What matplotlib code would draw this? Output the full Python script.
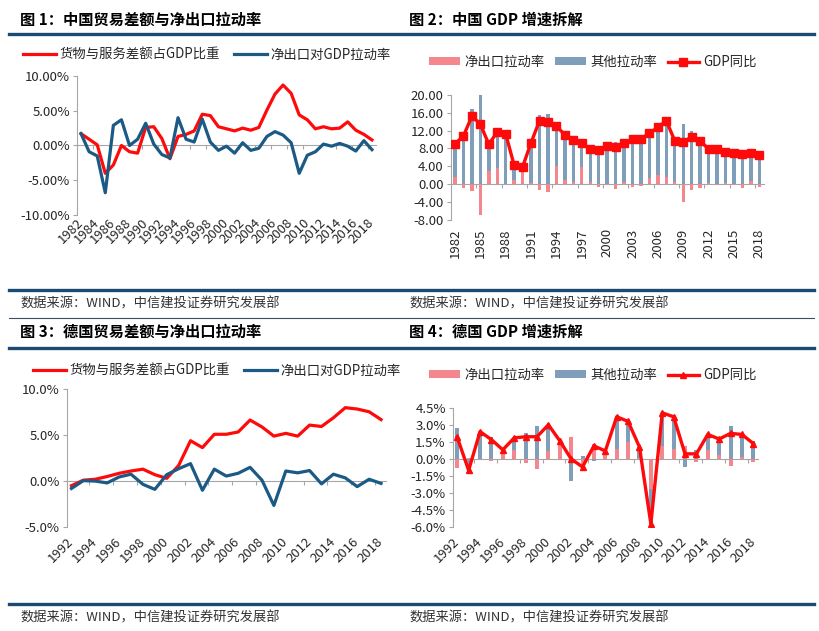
import numpy as np
import matplotlib
matplotlib.use('Agg')
import matplotlib.pyplot as plt
from matplotlib.lines import Line2D
from matplotlib.ticker import FuncFormatter

plt.rcParams['font.family'] = ['Noto Sans CJK SC', 'DejaVu Sans']
plt.rcParams['axes.unicode_minus'] = False

# ---- China, 1982-2018 ----
cn_years = list(range(1982, 2019))
# 货物与服务差额占GDP比重 (%)
cn_tb = [1.7, 0.9, 0.1, -4.0, -2.8, 0.0, -0.9, -1.1, 2.6, 2.7,
         1.0, -1.9, 1.3, 1.6, 2.1, 4.5, 4.3, 2.7, 2.4, 2.1,
         2.5, 2.2, 2.6, 5.1, 7.4, 8.7, 7.5, 4.4, 3.7, 2.4,
         2.7, 2.4, 2.5, 3.4, 2.2, 1.6, 0.8]
# 净出口对GDP拉动率 (%)
cn_nx = [1.7, -0.9, -1.5, -6.8, 2.9, 3.7, 0.0, 0.9, 3.2, 0.2,
         -1.3, -1.8, 4.0, 0.9, 0.5, 3.8, 0.5, -0.7, -0.1, -1.1,
         0.4, -0.7, -0.4, 1.3, 2.0, 1.5, 0.4, -4.0, -1.4, -0.9,
         0.2, -0.1, 0.3, -0.1, -0.8, 0.7, -0.6]
# 其他拉动率 (%)
cn_other = [7.3, 11.7, 16.7, 20.2, 6.0, 8.0, 11.2, 3.3, 0.7, 9.1,
            15.5, 15.7, 9.0, 10.1, 9.4, 5.4, 7.3, 8.4, 8.6, 9.4,
            8.7, 10.7, 10.5, 10.1, 10.7, 12.7, 9.3, 13.4, 12.0, 10.5,
            7.7, 7.9, 7.0, 7.0, 7.5, 6.2, 7.2]
# GDP同比 (%)
cn_gdp = [9.0, 10.8, 15.2, 13.4, 8.9, 11.7, 11.2, 4.2, 3.9, 9.3,
          14.2, 13.9, 13.0, 11.0, 9.9, 9.2, 7.8, 7.7, 8.5, 8.3,
          9.1, 10.0, 10.1, 11.4, 12.7, 14.2, 9.7, 9.4, 10.6, 9.6,
          7.9, 7.8, 7.3, 6.9, 6.7, 6.9, 6.6]

# ---- Germany, 1992-2018 ----
de_years = list(range(1992, 2019))
de_tb = [-0.5, 0.1, 0.2, 0.5, 0.85, 1.1, 1.3, 0.7, 0.3, 1.7,
         4.4, 3.65, 5.1, 5.1, 5.35, 6.65, 5.9, 4.9, 5.2, 4.9,
         6.1, 5.95, 6.9, 8.0, 7.85, 7.55, 6.7]
de_nx = [-0.8, 0.05, 0.0, -0.2, 0.45, 0.75, -0.35, -0.9, 0.7, 1.35,
         1.9, -1.0, 1.3, 0.55, 0.85, 1.5, 0.1, -2.65, 1.1, 0.9,
         1.15, -0.3, 0.75, 0.35, -0.6, 0.2, -0.25]
de_other = [2.7, -1.05, 2.4, 1.9, 0.35, 1.1, 2.3, 2.85, 2.3, 0.25,
            -1.9, 0.3, -0.15, 0.15, 2.85, 1.8, 0.95, -3.05, 2.95, 2.8,
            -0.7, 0.75, 1.4, 1.4, 2.85, 1.95, 1.6]
de_gdp = [1.9, -1.0, 2.4, 1.7, 0.8, 1.85, 1.95, 1.95, 3.0, 1.6,
          0.0, -0.7, 1.15, 0.7, 3.7, 3.3, 1.05, -5.7, 4.05, 3.7,
          0.45, 0.45, 2.15, 1.75, 2.25, 2.15, 1.35]

titles = ['图 1：中国贸易差额与净出口拉动率', '图 2：中国 GDP 增速拆解',
          '图 3：德国贸易差额与净出口拉动率', '图 4：德国 GDP 增速拆解']
source = '数据来源：WIND，中信建投证券研究发展部'
line_labels = ['货物与服务差额占GDP比重', '净出口对GDP拉动率']
bar_labels = ['净出口拉动率', '其他拉动率', 'GDP同比']

RED = '#FF0A0A'
BLUE = '#1B5A85'
PINK = '#F4868D'
STEEL = '#7F9EBA'
NAVY = '#1B4A72'
GRAY = '#A6A6A6'
TXT = '#262626'

W, H = 819, 631
fig = plt.figure(figsize=(W / 100, H / 100), dpi=100)


def px_axes(l, t, r, b):
    return fig.add_axes([l / W, 1 - b / H, (r - l) / W, (b - t) / H])


def style(ax, ylim, step, fmt, xlim, lab_step, rot, pad, mark_start):
    ax.set_xlim(*xlim)
    ax.set_ylim(*ylim)
    for s in ['top', 'right', 'bottom']:
        ax.spines[s].set_visible(False)
    ax.spines['left'].set_color(GRAY)
    ax.spines['left'].set_linewidth(0.8)
    ax.set_yticks(np.arange(ylim[0], ylim[1] + step / 2, step))
    ax.yaxis.set_major_formatter(FuncFormatter(fmt))
    ax.tick_params(axis='y', length=3, color=GRAY, labelsize=9.5, pad=2,
                   labelcolor=TXT)
    first = int(round(xlim[0] + 0.5))
    ticks = np.arange(first, int(xlim[1]) + 1, lab_step)
    ax.set_xticks(ticks)
    if rot == 90:
        ax.set_xticklabels([str(t) for t in ticks], rotation=90,
                           ha='center', va='top')
    else:
        ax.set_xticklabels([str(t) for t in ticks], rotation=45,
                           ha='right', va='center', rotation_mode='anchor')
    ax.tick_params(axis='x', length=0, pad=pad, labelsize=9.5, labelcolor=TXT)
    # category axis through zero with tick marks between categories
    z = (0 - ylim[0]) / (ylim[1] - ylim[0])
    sec = ax.secondary_xaxis(z)
    sec.set_alignment('bottom')
    sec.set_xticks(np.arange(mark_start, xlim[1] + 0.01, lab_step))
    sec.tick_params(axis='x', length=3, color=GRAY, width=0.8,
                    labelbottom=False, labeltop=False)
    for s in sec.spines.values():
        s.set_color(GRAY)
        s.set_linewidth(0.8)


def stacked(ax, years, nx, other, gdp, marker, ms, width):
    nx = np.array(nx)
    other = np.array(other)
    bottom = np.where(np.sign(nx) == np.sign(other), nx, 0)
    b1 = ax.bar(years, nx, width=width, color=PINK, zorder=2)
    b2 = ax.bar(years, other, bottom=bottom, width=width, color=STEEL, zorder=2)
    l1, = ax.plot(years, gdp, color=RED, lw=2.4, marker=marker, ms=ms,
                  zorder=4)
    return [b1, b2, l1]


# ---- panel 1 ----
ax1 = px_axes(77, 76, 376, 215)
h1, = ax1.plot(cn_years, cn_tb, color=RED, lw=2.3, zorder=3)
h2, = ax1.plot(cn_years, cn_nx, color=BLUE, lw=2.3, zorder=3)
style(ax1, (-10, 10), 5, lambda v, p: f'{v:.2f}%', (1981.5, 2018.5), 2, 45, 4,
      1983.5)
ax1.legend([h1, h2], line_labels, loc='center left',
           bbox_to_anchor=(23 / W, 1 - 55 / H), bbox_transform=fig.transFigure,
           ncol=2, frameon=False, fontsize=9.6, handlelength=2.5,
           handletextpad=0.25, columnspacing=1.0, borderpad=0,
           borderaxespad=0, labelcolor=TXT)

# ---- panel 2 ----
ax2 = px_axes(450.8, 94.7, 763.5, 220)
hs = stacked(ax2, cn_years, cn_nx, cn_other, cn_gdp, 's', 6, 0.4)
style(ax2, (-8, 20), 4, lambda v, p: f'{v:.2f}', (1981.5, 2018.5), 3, 90, 6,
      1984.5)
ax2.legend(hs, bar_labels, loc='center left',
           bbox_to_anchor=(429 / W, 1 - 62 / H), bbox_transform=fig.transFigure,
           ncol=3, frameon=False, fontsize=9.6, handlelength=2.3,
           handleheight=0.5, handletextpad=0.35, columnspacing=0.8,
           borderpad=0, borderaxespad=0, labelcolor=TXT)

# ---- panel 3 ----
ax3 = px_axes(66.7, 389.3, 385.8, 527)
h1, = ax3.plot(de_years, de_tb, color=RED, lw=2.3, zorder=3)
h2, = ax3.plot(de_years, de_nx, color=BLUE, lw=2.3, zorder=3)
style(ax3, (-5, 10), 5, lambda v, p: f'{v:.1f}%', (1991.6, 2018.4), 2, 45, 9,
      1993.5)
ax3.legend([h1, h2], line_labels, loc='center left',
           bbox_to_anchor=(33 / W, 1 - 371 / H), bbox_transform=fig.transFigure,
           ncol=2, frameon=False, fontsize=9.6, handlelength=2.5,
           handletextpad=0.25, columnspacing=1.0, borderpad=0,
           borderaxespad=0, labelcolor=TXT)

# ---- panel 4 ----
ax4 = px_axes(452.7, 407.7, 757.9, 527.3)
hs = stacked(ax4, de_years, de_nx, de_other, de_gdp, '^', 5, 0.35)
style(ax4, (-6, 4.5), 1.5, lambda v, p: f'{v:.1f}%', (1991.6, 2018.4), 2, 45,
      9, 1993.5)
ax4.legend(hs, bar_labels, loc='center left',
           bbox_to_anchor=(429 / W, 1 - 375 / H), bbox_transform=fig.transFigure,
           ncol=3, frameon=False, fontsize=9.6, handlelength=2.3,
           handleheight=0.5, handletextpad=0.35, columnspacing=0.8,
           borderpad=0, borderaxespad=0, labelcolor=TXT)

# ---- titles, rules, sources ----
for (x, y), t in zip([(20, 20), (409, 20), (20, 332), (409, 332)], titles):
    fig.text(x / W, 1 - y / H, t, fontsize=11, fontweight='bold', va='center',
             ha='left', color='black')
for (x, y) in [(20, 304), (409, 304), (20, 618), (409, 618)]:
    fig.text(x / W, 1 - y / H, source, fontsize=9.5, style='italic',
             va='center', ha='left', color='#333333')
for y in [34, 290, 348, 604]:
    fig.add_artist(Line2D([9 / W, 814 / W], [1 - y / H, 1 - y / H],
                          color=NAVY, lw=2.4))
fig.add_artist(Line2D([9 / W, 814 / W], [1 - 318 / H, 1 - 318 / H],
                      color='#3A4F66', lw=0.8))

fig.savefig('out.png', dpi=100)
